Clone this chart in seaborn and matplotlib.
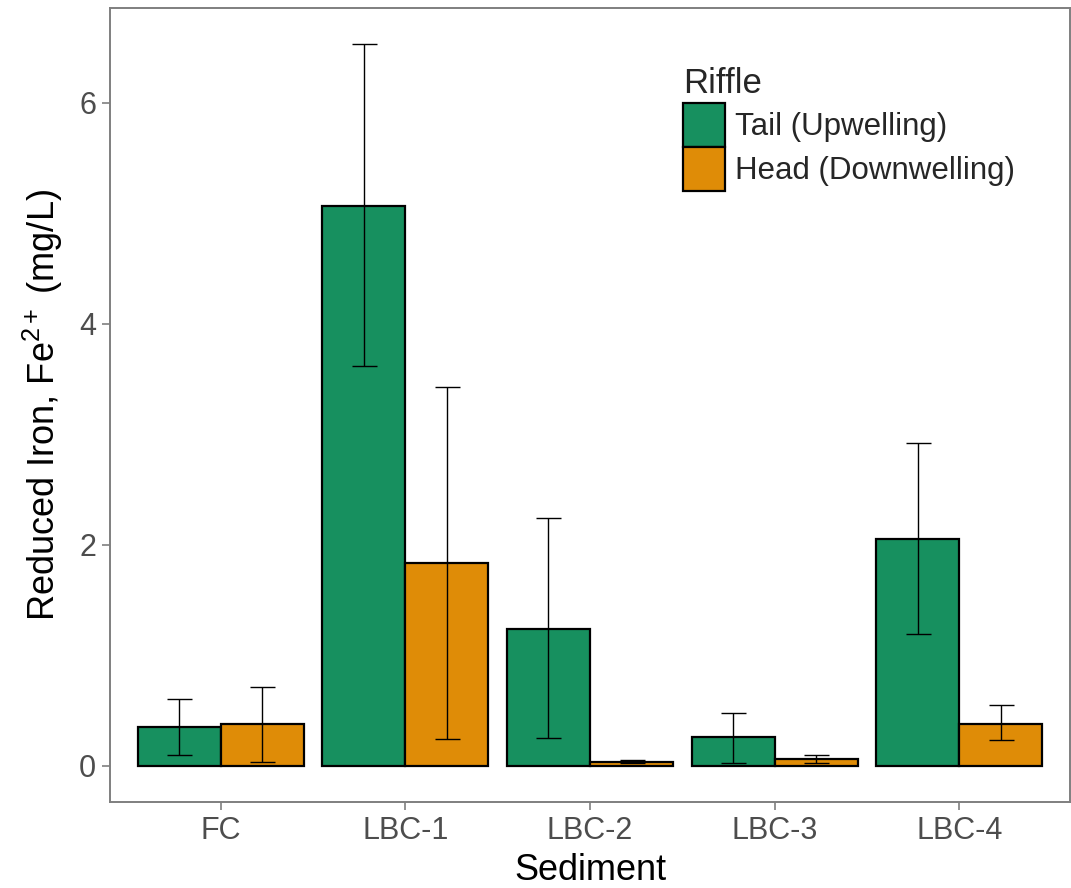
import numpy as np
import pandas as pd
import matplotlib
matplotlib.use("Agg")
import matplotlib.pyplot as plt
import seaborn as sns

# ── Data ──────────────────────────────────────────────────────────────────────
sediments = ["FC", "LBC-1", "LBC-2", "LBC-3", "LBC-4"]
riffles   = ["Tail (Upwelling)", "Head (Downwelling)"]

tail_mean = [0.35, 5.07, 1.24, 0.26, 2.05]
tail_low  = [0.10, 3.62, 0.25, 0.02, 1.19]
tail_high = [0.60, 6.53, 2.24, 0.48, 2.92]

head_mean = [0.38, 1.83, 0.035, 0.06, 0.38]
head_low  = [0.03, 0.24, 0.02, 0.02, 0.23]
head_high = [0.71, 3.43, 0.05, 0.10, 0.55]

colors = ["#17905F", "#DF8C07"]

df = pd.DataFrame({
    "Sediment": sediments * 2,
    "Riffle":   [riffles[0]] * 5 + [riffles[1]] * 5,
    "mean":     tail_mean + head_mean,
    "low":      tail_low + head_low,
    "high":     tail_high + head_high,
})

# ── Style ─────────────────────────────────────────────────────────────────────
sns.set_style("white")
plt.rcParams["font.family"] = ["Liberation Sans", "DejaVu Sans"]
plt.rcParams["mathtext.fontset"] = "custom"
plt.rcParams["mathtext.rm"] = "Liberation Sans"
plt.rcParams["mathtext.it"] = "Liberation Sans:italic"

fig = plt.figure(figsize=(10.71, 8.88), dpi=100)
ax = fig.add_axes([110 / 1071, 86 / 888, 960 / 1071, 794 / 888])

sns.barplot(data=df, x="Sediment", y="mean", hue="Riffle",
            order=sediments, hue_order=riffles, palette=colors,
            errorbar=None, width=0.9, gap=0, edgecolor="black",
            linewidth=1.6, saturation=1, ax=ax)

# error bars at the centres of the drawn bars
for container, riffle in zip(ax.containers, riffles):
    sub = df[df["Riffle"] == riffle].set_index("Sediment").loc[sediments]
    xs = [p.get_x() + p.get_width() / 2 for p in container.patches]
    ax.errorbar(xs, sub["mean"],
                yerr=[sub["mean"] - sub["low"], sub["high"] - sub["mean"]],
                fmt="none", ecolor="black", elinewidth=1.0, capsize=9,
                capthick=1.0, zorder=5)

ax.set_xlim(-0.6, 4.6)
ax.set_ylim(-0.33, 6.86)
ax.set_yticks([0, 2, 4, 6])

for s in ax.spines.values():
    s.set_visible(True)
    s.set_color("#7f7f7f")
    s.set_linewidth(1.4)

ax.tick_params(axis="both", which="major", length=6, width=1.2, color="#7f7f7f",
               labelsize=22, labelcolor="#4d4d4d", pad=4)
ax.tick_params(axis="x", bottom=True)
ax.tick_params(axis="y", left=True)

ax.set_xlabel("Sediment", fontsize=26, color="black", labelpad=5)
ax.set_ylabel(r"Reduced Iron, Fe$^{\mathregular{2+}}$ (mg/L)", fontsize=26,
              color="black", labelpad=10)

handles, labels = ax.get_legend_handles_labels()
for h in handles:
    h.set_edgecolor("black")
    h.set_linewidth(1.6)
leg = ax.legend(handles, labels, title="Riffle", loc="upper left",
                bbox_to_anchor=(0.597, 0.926), frameon=False, fontsize=22.5,
                title_fontsize=25, handlelength=1.34, handleheight=1.79,
                labelspacing=0.0, handletextpad=0.32, borderaxespad=0,
                borderpad=0)
leg._legend_box.align = "left"
leg._legend_box.sep = 2

fig.savefig("out.png", dpi=100)
